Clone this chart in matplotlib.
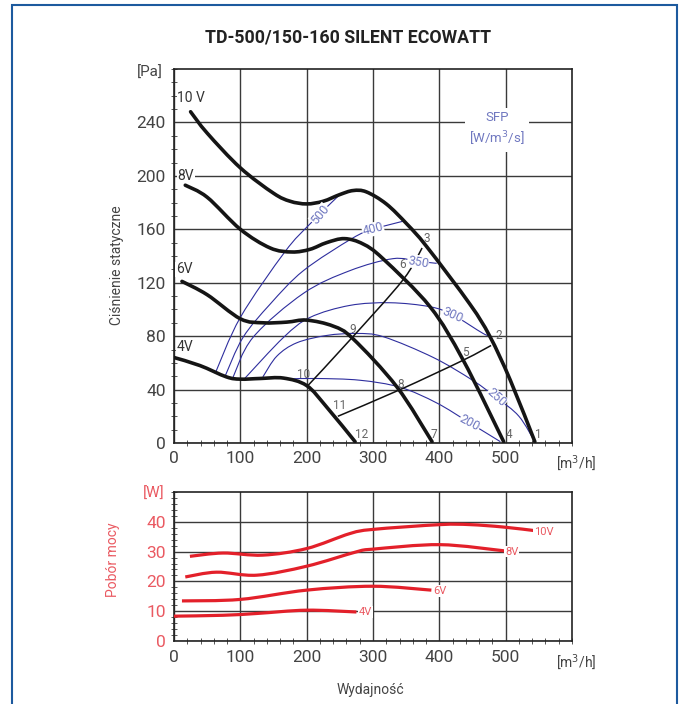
import matplotlib
matplotlib.use("Agg")
import matplotlib.pyplot as plt
from matplotlib.path import Path
from matplotlib.patches import PathPatch, Rectangle
from matplotlib.ticker import MultipleLocator
import numpy as np

plt.rcParams['font.family'] = ['Roboto', 'DejaVu Sans']

# fan curves, static pressure [Pa] vs airflow [m3/h]
fan10_x = [25, 50, 100, 150, 175, 200, 225, 250, 270, 290, 320, 351, 381, 446, 476, 507, 544]
fan10_y = [248, 232, 206, 187, 181, 179, 181, 186, 189, 188, 179, 164, 147, 104, 80, 47, 1]
fan8_x = [17, 50, 100, 145, 178, 205, 230, 257, 285, 315, 386, 436, 497]
fan8_y = [193, 184, 160, 146, 143, 145, 150, 153, 149, 138, 102, 62, 1]
fan6_x = [12, 50, 100, 134, 170, 200, 240, 270, 336, 389]
fan6_y = [121, 111, 93, 90, 90.5, 92, 87.5, 78, 42, 1]
fan4_x = [0, 39, 79, 100, 130, 165, 200, 230, 273]
fan4_y = [64, 58, 49.5, 47.8, 48.3, 48.6, 43, 27, 1]

# system curves
sysA_x = [200, 265, 345, 374]
sysA_y = [42, 77, 122, 146]
sysB_x = [247, 341, 436, 478]
sysB_y = [20, 40, 62, 73]

# SFP iso-lines [W/m3/s]
sfp_vals = ["500", "400", "350", "300", "250", "200"]
sfp_x = [[62, 100, 167, 205, 250],
         [77, 104, 145, 195, 268, 300, 345],
         [88, 119, 195, 265, 330, 368, 396],
         [106, 165, 205, 265, 326, 386, 420, 466, 476],
         [134, 155, 185, 230, 275, 316, 391, 450, 486, 520, 545],
         [175, 215, 280, 341, 396, 446, 492]]
sfp_y = [[52, 94, 143, 164, 186],
         [50, 79, 104, 129, 153, 160, 166],
         [48, 79, 112, 129, 138, 136, 134.5],
         [48, 79, 94, 103, 105, 102, 96, 82, 80.5],
         [49.5, 65, 75, 80.5, 82, 79.5, 64, 47, 34, 20, 0],
         [48, 48.3, 47, 41.7, 30, 15, 1]]
sfp_lab_xy = [(220, 171), (300, 160), (368, 135.5), (420, 96), (486, 34), (446, 15)]
sfp_lab_rot = [50, 14, -10, -24, -42, -28]

# working points
pt_labels = ["1", "2", "3", "4", "5", "6", "7", "8", "9", "10", "11", "12"]
pt_x = [549, 489, 381, 505, 440, 345, 392, 341, 270, 196, 249, 283]
pt_y = [6.5, 80.5, 153, 6.5, 68, 134, 6.5, 44, 85, 51.5, 28, 6.5]

volt_labels = ["10 V", "8V", "6V", "4V"]
volt_x = [26, 18, 15, 17]
volt_y = [258, 200, 130, 72]

# power consumption [W]
pw10_x = [24, 74, 134, 200, 265, 300, 401, 446, 496, 547]
pw10_y = [28.4, 29.5, 28.8, 31, 36, 37.4, 39, 39, 38.2, 36.9]
pw8_x = [17, 64, 125, 200, 275, 300, 401, 499]
pw8_y = [21.5, 23.1, 22.1, 25.1, 29.9, 30.8, 32.3, 30.2]
pw6_x = [12, 100, 200, 300, 388]
pw6_y = [13.5, 14, 17.1, 18.4, 17.1]
pw4_x = [0, 74, 125, 200, 275]
pw4_y = [8.4, 8.7, 9.3, 10.4, 9.8]
pw_labels = ["10V", "8V", "6V", "4V"]
pw_lab_x = [557, 509, 401, 288]
pw_lab_y = [36.5, 30, 16.8, 9.8]


def smooth(ax, xs, ys, **kw):
    # Catmull-Rom through the read points, drawn as bezier path
    p = np.column_stack([xs, ys]).astype(float)
    p = np.vstack([p[0], p, p[-1]])
    verts = [p[1]]
    codes = [Path.MOVETO]
    for i in range(1, len(p) - 2):
        c1 = p[i] + (p[i + 1] - p[i - 1]) / 6.0
        c2 = p[i + 1] - (p[i + 2] - p[i]) / 6.0
        verts += [c1, c2, p[i + 1]]
        codes += [Path.CURVE4] * 3
    ax.add_patch(PathPatch(Path(verts, codes), fill=False, **kw))


W, H = 683, 704
fig = plt.figure(figsize=(W / 100, H / 100), dpi=100)

def fx(px):
    return px / W

def fy(py):
    return 1 - py / H

grey = "#444444"
grid_c = "#3a3a3a"
blue = "#2e2e9e"
blue_t = "#7078c0"
red = "#e3202a"
red_t = "#ea5a62"

# ---- upper chart
ax = fig.add_axes([fx(174), fy(443), fx(572) - fx(174), fy(69) - fy(443)])
ax.set_xlim(0, 600)
ax.set_ylim(0, 280)
ax.xaxis.set_minor_locator(MultipleLocator(20))
ax.yaxis.set_minor_locator(MultipleLocator(10))
ax.set_xticks(range(0, 600, 100))
ax.set_yticks(range(0, 280, 40))
ax.grid(True, which="major", color=grid_c, lw=1.0)
ax.tick_params(which="major", length=0, labelsize=12.5, labelcolor=grey, pad=6)
ax.tick_params(which="minor", length=4, direction="inout", color=grid_c)
for s in ax.spines.values():
    s.set_color("#222222")
    s.set_linewidth(1.2)

for i in range(len(sfp_vals)):
    smooth(ax, sfp_x[i], sfp_y[i], color=blue, lw=0.8, zorder=3)
    ax.text(sfp_lab_xy[i][0], sfp_lab_xy[i][1], sfp_vals[i], color=blue_t, fontsize=9,
            rotation=sfp_lab_rot[i], ha="center", va="center", zorder=6,
            bbox=dict(facecolor="white", edgecolor="none", pad=0.3))

smooth(ax, sysA_x, sysA_y, color="#111111", lw=1.1, zorder=4)
smooth(ax, sysB_x, sysB_y, color="#111111", lw=1.1, zorder=4)

for xs, ys in [(fan10_x, fan10_y), (fan8_x, fan8_y), (fan6_x, fan6_y), (fan4_x, fan4_y)]:
    smooth(ax, xs, ys, color="#151515", lw=2.6, zorder=5, capstyle="round")

for i in range(len(pt_labels)):
    ax.text(pt_x[i], pt_y[i], pt_labels[i], color="#666666", fontsize=8.5,
            ha="center", va="center", zorder=6)

for i in range(len(volt_labels)):
    ax.text(volt_x[i], volt_y[i], volt_labels[i], color="#333333", fontsize=10,
            ha="center", va="center", zorder=6,
            bbox=dict(facecolor="white", edgecolor="none", pad=0.4))

ax.text(487, 235, "SFP\n[W/m$^3$/s]", color=blue_t, fontsize=9.5, ha="center",
        va="center", linespacing=1.4, zorder=6,
        bbox=dict(facecolor="white", edgecolor="none", pad=3))

# ---- lower chart
bx = fig.add_axes([fx(174), fy(641.3), fx(572) - fx(174), fy(491.7) - fy(641.3)])
bx.set_xlim(0, 600)
bx.set_ylim(0, 50)
bx.xaxis.set_minor_locator(MultipleLocator(20))
bx.yaxis.set_minor_locator(MultipleLocator(2))
bx.set_xticks(range(0, 600, 100))
bx.set_yticks(range(0, 50, 10))
bx.grid(True, which="major", color=grid_c, lw=1.0)
bx.tick_params(which="major", length=0, labelsize=12.5, labelcolor=grey, pad=6)
bx.tick_params(axis="y", which="major", labelcolor=red_t)
bx.tick_params(which="minor", length=4, direction="inout", color=grid_c)
for s in bx.spines.values():
    s.set_color("#222222")
    s.set_linewidth(1.2)

for xs, ys in [(pw10_x, pw10_y), (pw8_x, pw8_y), (pw6_x, pw6_y), (pw4_x, pw4_y)]:
    smooth(bx, xs, ys, color=red, lw=2.3, zorder=5)
for i in range(len(pw_labels)):
    bx.text(pw_lab_x[i], pw_lab_y[i], pw_labels[i], color=red_t, fontsize=8,
            ha="center", va="center", zorder=6,
            bbox=dict(facecolor="white", edgecolor="none", pad=0.6))

# ---- texts
fig.text(fx(348), fy(38), "TD-500/150-160 SILENT ECOWATT", fontsize=12.8,
         fontweight="bold", color="#222222", ha="center", va="center")
fig.text(fx(163), fy(73), "[Pa]", fontsize=11, color=grey, ha="right", va="center")
fig.text(fx(117), fy(265), "Ciśnienie statyczne", fontsize=10, color=grey,
         rotation=90, ha="center", va="center")
fig.text(fx(556), fy(463), "[m$^3$/h]", fontsize=10, color=grey, ha="left", va="center")
fig.text(fx(164), fy(494), "[W]", fontsize=11, color=red_t, ha="right", va="center")
fig.text(fx(113), fy(560), "Pobór mocy", fontsize=10, color=red_t,
         rotation=90, ha="center", va="center")
fig.text(fx(556), fy(662), "[m$^3$/h]", fontsize=10, color=grey, ha="left", va="center")
fig.text(fx(370), fy(690), "Wydajność", fontsize=10, color=grey, ha="center", va="center")

# frame
fig.patches.append(Rectangle((fx(12), fy(720)), fx(677) - fx(12), fy(5) - fy(720),
                             transform=fig.transFigure, fill=False,
                             edgecolor="#1d5a9e", lw=1.5))

fig.savefig("out.png", dpi=100)
